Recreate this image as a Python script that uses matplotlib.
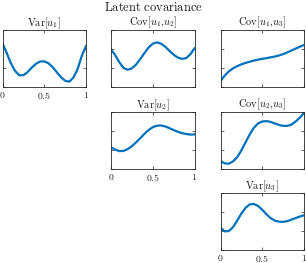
import numpy as np
import matplotlib
matplotlib.use("Agg")
import matplotlib.pyplot as plt

plt.rcParams["mathtext.fontset"] = "cm"
plt.rcParams["font.family"] = "serif"

# grid of positions along the domain
t = np.linspace(0, 1, 21)

# curves (arbitrary units, axis range 0..3)
var_u1 = [2.30, 1.80, 1.25, 0.85, 0.62, 0.62, 0.78, 1.02, 1.22, 1.34, 1.35,
          1.25, 1.05, 0.78, 0.52, 0.33, 0.28, 0.50, 0.95, 1.65, 2.15]
cov_u1u2 = [1.97, 1.68, 1.30, 1.00, 0.91, 0.98, 1.18, 1.47, 1.78, 2.08, 2.28,
            2.35, 2.28, 2.12, 1.90, 1.70, 1.55, 1.48, 1.52, 1.72, 2.03]
cov_u1u3 = [0.31, 0.60, 0.82, 0.98, 1.10, 1.19, 1.27, 1.33, 1.39, 1.44, 1.48,
            1.52, 1.56, 1.60, 1.66, 1.73, 1.82, 1.92, 2.02, 2.12, 2.21]
var_u2 = [1.14, 1.02, 0.94, 0.95, 1.05, 1.20, 1.40, 1.62, 1.85, 2.05, 2.20,
          2.28, 2.29, 2.24, 2.15, 2.05, 1.96, 1.89, 1.84, 1.81, 1.82]
cov_u2u3 = [0.41, 0.30, 0.28, 0.40, 0.62, 0.98, 1.40, 1.82, 2.17, 2.40, 2.50,
            2.52, 2.48, 2.40, 2.32, 2.27, 2.27, 2.34, 2.50, 2.70, 2.95]
var_u3 = [1.17, 0.98, 1.00, 1.20, 1.55, 1.92, 2.22, 2.40, 2.42, 2.32, 2.12,
          1.88, 1.68, 1.55, 1.49, 1.48, 1.52, 1.60, 1.68, 1.76, 1.83]

panels = [
    (0, 0, r"$\mathrm{Var}[u_1]$", var_u1),
    (0, 1, r"$\mathrm{Cov}[u_1{,}u_2]$", cov_u1u2),
    (0, 2, r"$\mathrm{Cov}[u_1{,}u_3]$", cov_u1u3),
    (1, 1, r"$\mathrm{Var}[u_2]$", var_u2),
    (1, 2, r"$\mathrm{Cov}[u_2{,}u_3]$", cov_u2u3),
    (2, 2, r"$\mathrm{Var}[u_3]$", var_u3),
]

W, H = 306, 263
fig = plt.figure(figsize=(W / 100, H / 100), dpi=100)

lefts = [2.5, 111, 220.5]
tops = [30, 112, 193]
aw, ah = 83.5, 57

for row, col, title, vals in panels:
    ax = fig.add_axes([lefts[col] / W, (H - tops[row] - ah) / H, aw / W, ah / H])
    ax.plot(t, vals, color="#0072BD", lw=1.6)
    ax.set_xlim(0, 1)
    ax.set_ylim(0, 3)
    ax.set_xticks([0, 0.5, 1])
    ax.set_yticks([0, 1, 2, 3])
    ax.set_yticklabels([])
    if row == col:
        ax.set_xticklabels(["$0$", "$0.5$", "$1$"], fontsize=7)
    else:
        ax.set_xticklabels([])
    ax.tick_params(direction="in", length=2, width=0.5, colors="#262626",
                   top=True, right=True, pad=2)
    for s in ax.spines.values():
        s.set_linewidth(0.6)
        s.set_color("#262626")
    ax.set_title(title, fontsize=7.5, pad=3, color="#1a1a1a")

fig.text(0.5, 1 - 7.5 / H, r"$\mathrm{Latent\ covariance}$", ha="center",
         va="center", fontsize=9, color="#1a1a1a")

fig.savefig("out.png", dpi=100)
